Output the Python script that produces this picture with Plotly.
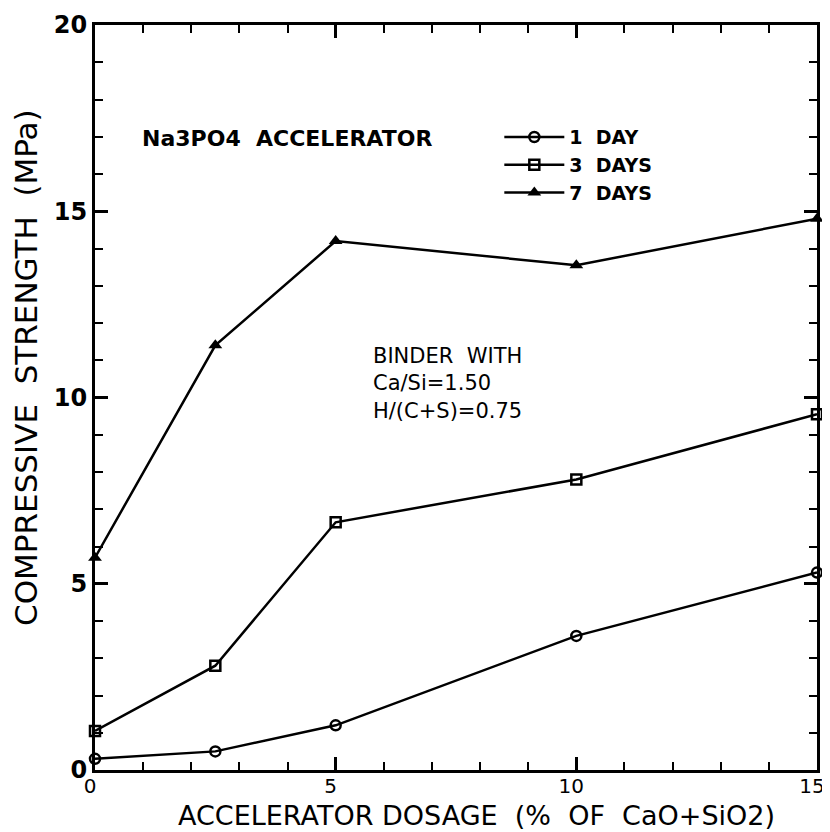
import plotly.graph_objects as go

dosage = [0, 2.5, 5, 10, 15]
day1 = [0.3, 0.5, 1.2, 3.6, 5.3]
day3 = [1.05, 2.8, 6.65, 7.8, 9.55]
day7 = [5.7, 11.4, 14.2, 13.55, 14.8]
series_names = ["1  DAY", "3  DAYS", "7  DAYS"]
x_ticks = [0, 5, 10, 15]
x_ticktext = ["0", "5", "10", "15"]
y_ticks = [0, 5, 10, 15, 20]
y_ticktext = ["0", "5", "10", "15", "20"]

FONT = "DejaVu Sans, Arial, sans-serif"

fig = go.Figure()
styles = [
    dict(symbol="circle-open", size=10, line=dict(width=2.5, color="black")),
    dict(symbol="square-open", size=10, line=dict(width=2.5, color="black")),
    dict(symbol="triangle-up", size=12, color="black", line=dict(width=0)),
]
for name, vals, st in zip(series_names, [day1, day3, day7], styles):
    mk = dict(st)
    mk.setdefault("color", "black")
    fig.add_trace(go.Scatter(
        x=dosage, y=vals, mode="lines+markers", name=name,
        line=dict(color="black", width=2.5),
        marker=mk, cliponaxis=False,
    ))

axis_common = dict(
    showline=True, linecolor="black", linewidth=3, mirror="ticks",
    ticks="inside", ticklen=13, tickwidth=2.5, tickcolor="black",
    showgrid=False, zeroline=False, automargin=False, ticklabeloverflow="allow",
    minor=dict(ticks="inside", ticklen=8, tickwidth=2, tickcolor="black", dtick=1),
)

fig.update_xaxes(
    range=[0, 15], tickvals=x_ticks, ticktext=x_ticktext,
    tickfont=dict(family=FONT, size=20, color="black"),
    ticklabelstandoff=-4, ticklabelshift=-5,
    **axis_common,
)
fig.update_yaxes(
    range=[0, 20], tickvals=y_ticks, ticktext=y_ticktext,
    tickfont=dict(family=FONT, size=24, color="black", weight="bold"),
    **axis_common,
)

# axis titles
fig.add_annotation(x=0.529, y=-0.061, xref="paper", yref="paper", xanchor="center", yanchor="middle",
                   text="ACCELERATOR DOSAGE  (%  OF  CaO+SiO2)", showarrow=False,
                   font=dict(family=FONT, size=27, color="black"))
fig.add_annotation(x=-0.0956, y=0.541, xref="paper", yref="paper", xanchor="center", yanchor="middle",
                   text="COMPRESSIVE  STRENGTH  (MPa)", showarrow=False, textangle=-90,
                   font=dict(family=FONT, size=31, color="black"))

fig.add_annotation(x=0.063, y=0.848, xref="paper", yref="paper", xanchor="left", yanchor="middle",
                   text="Na3PO4  ACCELERATOR", showarrow=False,
                   font=dict(family=FONT, size=22, color="black", weight="bold"))
fig.add_annotation(x=0.382, y=0.575, xref="paper", yref="paper", xanchor="left", yanchor="top",
                   text="BINDER  WITH<br>Ca/Si=1.50<br>H/(C+S)=0.75", showarrow=False, align="left",
                   font=dict(family=FONT, size=21, color="black"))

fig.update_layout(
    width=822, height=824,
    margin=dict(l=87, r=13, t=17, b=62),
    paper_bgcolor="white", plot_bgcolor="white",
    showlegend=True,
    legend=dict(x=0.56, y=0.875, xanchor="left", yanchor="top",
                font=dict(family=FONT, size=19, color="black", weight="bold"),
                itemwidth=60, tracegroupgap=0, bgcolor="rgba(0,0,0,0)"),
)

fig.write_html("out.html")
